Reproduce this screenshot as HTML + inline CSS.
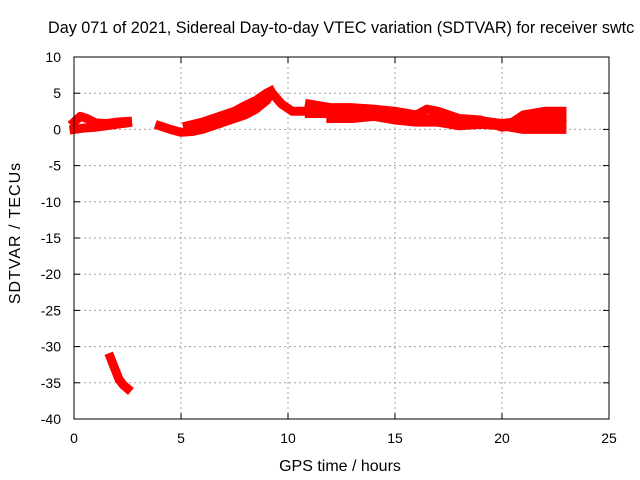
<!DOCTYPE html>
<html><head><meta charset="utf-8"><style>
body{margin:0;background:#fff;overflow:hidden}
svg{display:block;font-family:"Liberation Sans",sans-serif}
</style></head><body>
<svg id="chart" width="640" height="480">
<text x="48" y="33" font-size="16.2">Day 071 of 2021, Sidereal Day-to-day VTEC variation (SDTVAR) for receiver swtc</text>
<g id="grid"></g><g id="ticks"></g><g id="series"></g>
<rect x="74" y="57" width="535" height="362" fill="none" stroke="#000" stroke-width="1"/>
<text x="340" y="471" font-size="16" text-anchor="middle">GPS time / hours</text>
<text transform="translate(20,233) rotate(-90)" font-size="16" letter-spacing="1" text-anchor="middle">SDTVAR / TECUs</text>
</svg>
<script>
const xTicks=[0,5,10,15,20,25];
const yTicks=[10,5,0,-5,-10,-15,-20,-25,-30,-35,-40];
const s1t=[0,0.3,0.6,1,1.5,2,2.5], s1v=[1,1.8,1.5,0.9,0.8,1,1.1];
const s2t=[0,0.5,1,1.5,2,2.5], s2v=[0,0.2,0.3,0.5,0.7,0.9];
const s3t=[1.7,1.9,2.1,2.3,2.5], s3v=[-31.5,-33,-34.5,-35.3,-35.8];
const s4t=[4,4.5,5,5.5,6,6.5,7,7.5,8,8.5,9,9.2], s4v=[0.5,0,-0.4,-0.3,0,0.5,1,1.5,2,2.8,4,5];
const s5t=[5.3,6,6.5,7,7.5,8,8.5,9,9.2], s5v=[0.5,1,1.5,2,2.5,3.3,4,5,5.3];
const s6t=[9.2,9.7,10.2,11,12,13,14,15,16,17,18,19,20,20.5,21,22,22.8], s6v=[5.2,3.5,2.5,2.5,2.8,2.5,2.5,2,1.5,1.3,1,1,0.8,1,2,2.5,2.5];
const s7t=[11,12,13,14,15,16,16.5,17,18,19,20,20.5,21,22,22.8], s7v=[3.5,3,3,2.8,2.5,2,2.8,2.5,1.5,1.3,0.3,0.5,1,1.5,1.5];
const s8t=[12,13,14,15,16,17,18,19,20,21,22,22.8], s8v=[1.5,1.5,1.8,1.3,1,1,0.5,0.7,0.5,0,0,0];
const s9t=[11,12,13,14,15,16,17,18,19,20,21,22,22.8], s9v=[2.2,2.2,2.2,2,1.8,1.3,1.6,1,1.2,0.8,1,1,0.8];
const X=t=>74+t*(535/25), Y=v=>57+(10-v)*(362/50);
const NS="http://www.w3.org/2000/svg";
const grid=document.getElementById('grid'), ticks=document.getElementById('ticks'), ser=document.getElementById('series');
function mk(tag,attrs,parent){const e=document.createElementNS(NS,tag);for(const k in attrs)e.setAttribute(k,attrs[k]);parent.appendChild(e);return e;}
xTicks.forEach(t=>{
 if(t>0&&t<25){const g=mk('line',{x1:X(t),x2:X(t),y1:57,y2:419,stroke:'#a0a0a0','stroke-dasharray':'2,3'},grid);
 
 }
 mk('line',{x1:X(t),x2:X(t),y1:419,y2:413,stroke:'#000'},ticks);
 mk('line',{x1:X(t),x2:X(t),y1:57,y2:63,stroke:'#000'},ticks);
 const l=mk('text',{x:X(t),y:443,'font-size':14,'text-anchor':'middle'},ticks);l.textContent=t;
 
 
});
yTicks.forEach(v=>{
 if(v<10&&v>-40){const g=mk('line',{x1:74,x2:609,y1:Y(v),y2:Y(v),stroke:'#a0a0a0','stroke-dasharray':'2,3'},grid);
 
 }
 mk('line',{x1:74,x2:80,y1:Y(v),y2:Y(v),stroke:'#000'},ticks);
 mk('line',{x1:609,x2:603,y1:Y(v),y2:Y(v),stroke:'#000'},ticks);
 const l=mk('text',{x:61,y:Y(v)+5,'font-size':14,'text-anchor':'end'},ticks);l.textContent=v;
 
 
});
[[s1t,s1v],[s2t,s2v],[s3t,s3v],[s4t,s4v],[s5t,s5v],[s6t,s6v],[s7t,s7v],[s8t,s8v],[s9t,s9v]].forEach((s,i)=>{
 const pts=s[0].map((t,j)=>X(t)+','+Y(s[1][j])).join(' ');
 const p=mk('polyline',{points:pts,fill:'none',stroke:'#ff0000','stroke-width':9,'stroke-linejoin':'round','stroke-linecap':'square'},ser);
 
 
});
</script>
</body></html>
